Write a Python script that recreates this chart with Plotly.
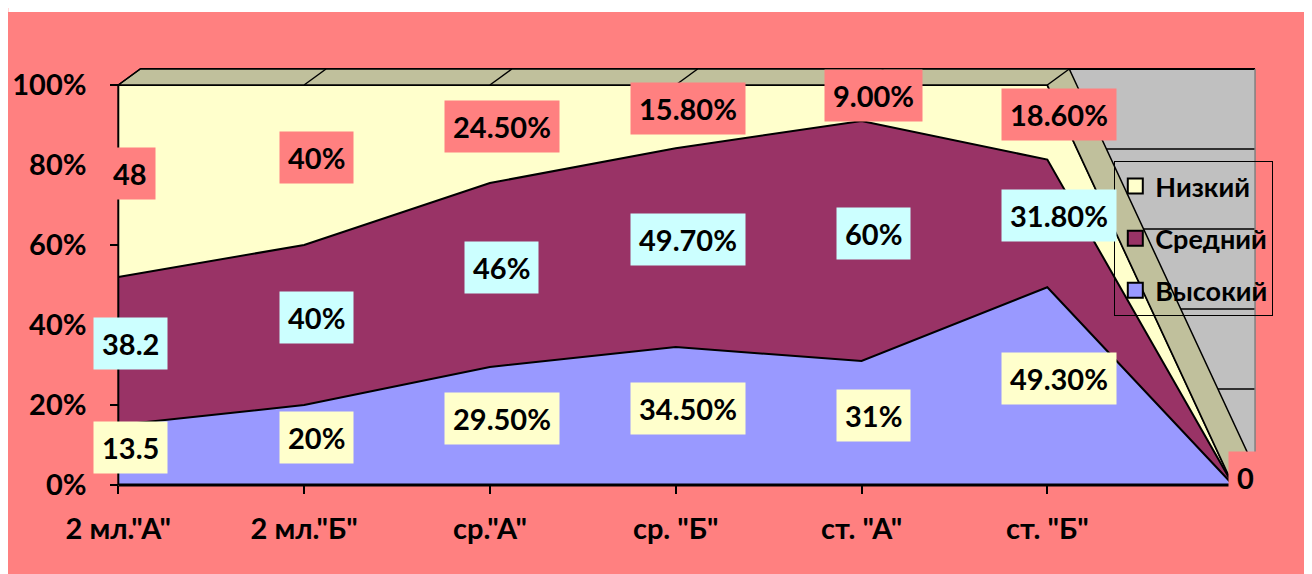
import plotly.graph_objects as go

categories = ['2 мл."А"', '2 мл."Б"', 'ср."А"', 'ср. "Б"', 'ст. "А"', 'ст. "Б"', '']
high = [15, 20, 29.5, 34.5, 31, 49.3, 0]
mid = [37, 40, 46, 49.7, 60, 31.8, 0]
low = [48, 40, 24.5, 15.8, 9, 18.6, 0]
high_labels = ["13.5", "20%", "29.50%", "34.50%", "31%", "49.30%", "0"]
mid_labels = ["38.2", "40%", "46%", "49.70%", "60%", "31.80%", ""]
low_labels = ["48", "40%", "24.50%", "15.80%", "9.00%", "18.60%", ""]
series_names = ["Высокий", "Средний", "Низкий"]
ytick_vals = [0, 20, 40, 60, 80, 100]
ytick_text = ["0%", "20%", "40%", "60%", "80%", "100%"]

# styling
PINK = "#FF8080"
C_HIGH = "#9999FF"
C_MID = "#993366"
C_LOW = "#FFFFCC"
C_FACE = "#C0C09C"
C_WALL = "#C0C0C0"
LBL_BG = {"Высокий": "#FFFFCC", "Средний": "#CCFFFF", "Низкий": PINK}
FONT = "Lato"
DX, DY = 0.118, 4.0
XMIN, XMAX = -0.05, 6.15
YMIN, YMAX = -1, 105
ML, MT, PW, PH = 100.7, 57, 1152, 424

xs = list(range(len(categories)))
pct_h, pct_m, pct_l = [], [], []
for h, m, l in zip(high, mid, low):
    t = h + m + l
    pct_h.append(h / t * 100 if t else 0)
    pct_m.append(m / t * 100 if t else 0)
    pct_l.append(l / t * 100 if t else 0)
c1 = pct_h
c2 = [a + b for a, b in zip(c1, pct_m)]
c3 = [a + b for a, b in zip(c2, pct_l)]

fig = go.Figure()

# stacked areas
fig.add_trace(go.Scatter(x=xs, y=c1, mode="lines", fill="tozeroy", fillcolor=C_HIGH,
                         line=dict(color="black", width=2), showlegend=False, hoverinfo="skip"))
fig.add_trace(go.Scatter(x=xs, y=c2, mode="lines", fill="tonexty", fillcolor=C_MID,
                         line=dict(color="black", width=2), showlegend=False, hoverinfo="skip"))
fig.add_trace(go.Scatter(x=xs, y=c3, mode="lines", fill="tonexty", fillcolor=C_LOW,
                         line=dict(color="black", width=2), showlegend=False, hoverinfo="skip"))

# 3D top/side face
face_x = xs + [x + DX for x in reversed(xs)] + [xs[0]]
face_y = c3 + [t + DY for t in reversed(c3)] + [c3[0]]
fig.add_trace(go.Scatter(x=face_x, y=face_y, mode="lines", fill="toself", fillcolor=C_FACE,
                         line=dict(color="black", width=1.5), showlegend=False, hoverinfo="skip"))

# legend entries
for name, col, rank in [("Низкий", C_LOW, 1), ("Средний", C_MID, 2), ("Высокий", C_HIGH, 3)]:
    fig.add_trace(go.Scatter(x=[None], y=[None], mode="markers", name=name, legendgroup=name,
                             legendrank=rank,
                             marker=dict(symbol="square", size=15, color=col,
                                         line=dict(color="black", width=2))))

shapes = []
# white strip at top of the page
shapes.append(dict(type="rect", xref="paper", yref="paper", x0=-ML / PW, x1=1 + 80 / PW,
                   y0=1 + (MT - 4) / PH, y1=1 + (MT + 2) / PH,
                   fillcolor="white", line=dict(width=0), layer="below"))
# back wall
shapes.append(dict(type="rect", xref="x", yref="y", x0=DX, x1=xs[-1] + DX, y0=DY, y1=100 + DY,
                   fillcolor=C_WALL, line=dict(width=0), layer="below"))
for v in ytick_vals:
    shapes.append(dict(type="line", xref="x", yref="y", x0=DX, x1=xs[-1] + DX, y0=v + DY, y1=v + DY,
                       line=dict(color="black", width=2 if v == 100 else 1.5), layer="below"))
shapes.append(dict(type="line", xref="x", yref="y", x0=xs[-1] + DX, x1=xs[-1] + DX, y0=DY, y1=100 + DY,
                   line=dict(color="#808080", width=1.5), layer="below"))
# dividers on top face
for x, t in zip(xs, c3):
    shapes.append(dict(type="line", xref="x", yref="y", x0=x, x1=x + DX, y0=t, y1=t + DY,
                       line=dict(color="black", width=1.5), layer="above"))
# axis lines
shapes.append(dict(type="line", xref="x", yref="y", x0=0, x1=0, y0=0, y1=100,
                   line=dict(color="black", width=2), layer="above"))
shapes.append(dict(type="line", xref="x", yref="y", x0=0, x1=xs[-1], y0=0, y1=0,
                   line=dict(color="black", width=3), layer="above"))

# data labels
annotations = []
lbl_font = dict(family=FONT, size=29, color="black", weight="bold")
for i in xs:
    bands = [("Высокий", 0, c1[i], high_labels[i]),
             ("Средний", c1[i], c2[i], mid_labels[i]),
             ("Низкий", c2[i], c3[i], low_labels[i])]
    for name, lo, hi, txt in bands:
        if not txt:
            continue
        annotations.append(dict(x=i + DX * 0.55, y=(lo + hi) / 2 + DY / 2, xref="x", yref="y",
                                text=txt, showarrow=False, bgcolor=LBL_BG[name] if hi > lo else PINK,
                                borderpad=8, font=lbl_font))

fig.update_layout(
    width=1312, height=574,
    margin=dict(l=ML, r=1312 - ML - PW, t=MT, b=574 - MT - PH),
    paper_bgcolor=PINK, plot_bgcolor="rgba(0,0,0,0)",
    shapes=shapes, annotations=annotations,
    font=dict(family=FONT, size=29, color="black", weight="bold"),
    legend=dict(x=(1114 - 8 - ML) / PW, y=1 - (161 - 8 - MT) / PH, xanchor="left", yanchor="top",
                bgcolor="rgba(0,0,0,0)", bordercolor="black", borderwidth=1,
                font=dict(family=FONT, size=27, color="black", weight="bold"),
                traceorder="grouped", tracegroupgap=14),
    xaxis=dict(range=[XMIN, XMAX], tickvals=xs[:-1], ticktext=categories[:-1],
               showgrid=False, zeroline=False, showline=False, automargin=False,
               ticks="outside", ticklen=8, tickwidth=1.5, tickcolor="black",
               anchor="free", position=(0 - YMIN) / (YMAX - YMIN), ticklabelstandoff=10),
    yaxis=dict(range=[YMIN, YMAX], tickvals=ytick_vals, ticktext=ytick_text,
               showgrid=False, zeroline=False, showline=False, automargin=False,
               ticks="outside", ticklen=8, tickwidth=1.5, tickcolor="black",
               anchor="free", position=(0 - XMIN) / (XMAX - XMIN), ticklabelstandoff=18),
)

fig.write_html("out.html")
